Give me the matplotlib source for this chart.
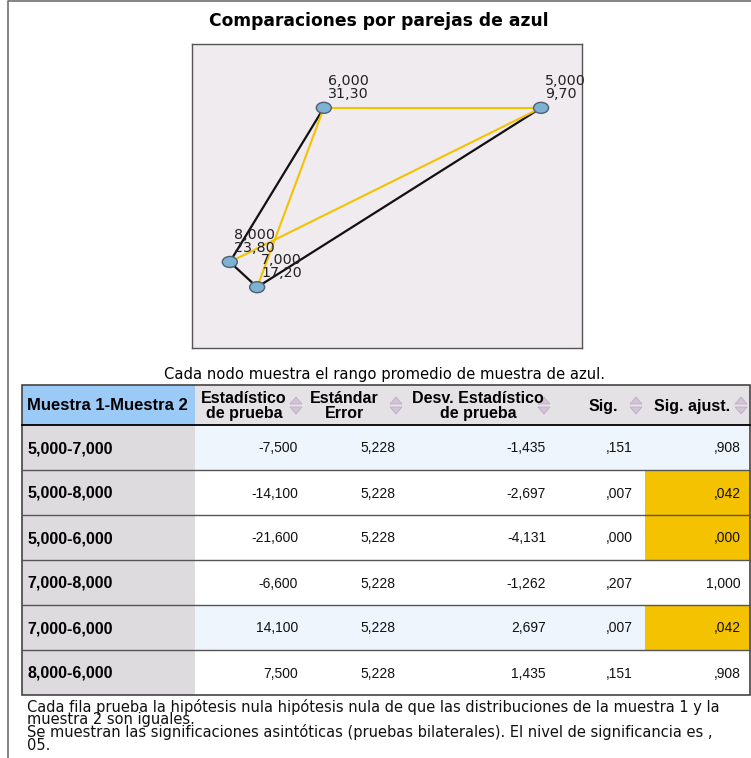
import matplotlib
matplotlib.use("Agg")
import matplotlib.pyplot as plt
from matplotlib.patches import Rectangle, Ellipse, Polygon

node_names = ['5,000', '6,000', '7,000', '8,000']
mean_rank = [9.70, 31.30, 17.20, 23.80]
# layout position of each node inside the graph box (0..1)
node_x = [0.895, 0.338, 0.167, 0.097]
node_y = [0.790, 0.790, 0.200, 0.283]

pairs = ['5,000-7,000', '5,000-8,000', '5,000-6,000', '7,000-8,000', '7,000-6,000', '8,000-6,000']
test_stat = [-7.500, -14.100, -21.600, -6.600, 14.100, 7.500]
std_err = [5.228, 5.228, 5.228, 5.228, 5.228, 5.228]
std_stat = [-1.435, -2.697, -4.131, -1.262, 2.697, 1.435]
sig = [0.151, 0.007, 0.000, 0.207, 0.007, 0.151]
sig_adj = [0.908, 0.042, 0.000, 1.000, 0.042, 0.908]

headers = ['Muestra 1-Muestra 2', 'Estadístico\nde prueba', 'Estándar\nError',
           'Desv. Estadístico\nde prueba', 'Sig.', 'Sig. ajust.']

title = 'Comparaciones por parejas de azul'
caption = 'Cada nodo muestra el rango promedio de muestra de azul.'
notes = ['Cada fila prueba la hipótesis nula hipótesis nula de que las distribuciones de la muestra 1 y la',
         'muestra 2 son iguales.',
         'Se muestran las significaciones asintóticas (pruebas bilaterales). El nivel de significancia es ,',
         '05.']

alpha = 0.05
W, H = 751, 758

YELLOW = '#f5c200'
SANS = ['Liberation Sans', 'DejaVu Sans']
WIDE = ['DejaVu Sans']


def fmt(v, nd=3):
    s = f"{v:.{nd}f}".replace('.', ',')
    if abs(v) < 1:
        s = s.replace('0,', ',', 1)
    return s


fig = plt.figure(figsize=(W / 100, H / 100), dpi=100)
ax = fig.add_axes([0, 0, 1, 1])
ax.set_xlim(0, W)
ax.set_ylim(H, 0)
ax.axis('off')

# outer frame
ax.plot([8, 8, W], [H, 0.8, 0.8], color='#707070', lw=1.2)

ax.text(379, 21, title, ha='center', va='center', fontsize=12.3,
        fontweight='bold', family=WIDE)

# ---- graph ----
gl, gt, gw, gh = 192, 44, 390, 304
gax = fig.add_axes([gl / W, 1 - (gt + gh) / H, gw / W, gh / H])
gax.set_xlim(0, 1)
gax.set_ylim(0, 1)
gax.set_facecolor('#efebef')
gax.set_xticks([])
gax.set_yticks([])
for sp in gax.spines.values():
    sp.set_color('#555555')
    sp.set_linewidth(1)

idx = {n: i for i, n in enumerate(node_names)}
edges = []
for p, s in zip(pairs, sig_adj):
    a, b = p.split('-', 1)
    edges.append((idx[a], idx[b], s < alpha))
# black edges first, significant (yellow) on top
for a, b, signif in sorted(edges, key=lambda e: e[2]):
    gax.plot([node_x[a], node_x[b]], [node_y[a], node_y[b]],
             color=YELLOW if signif else '#111111', lw=1.5 if signif else 1.6,
             zorder=2, solid_capstyle='round')

for i, name in enumerate(node_names):
    gax.add_patch(Ellipse((node_x[i], node_y[i]), 15 / gw, 11 / gh,
                          facecolor='#7fb1d3', edgecolor='#4b6272', lw=1, zorder=3))
    gax.annotate(f"{name}\n{fmt(mean_rank[i], 2)}", (node_x[i], node_y[i]),
                 xytext=(3, 5), textcoords='offset points', ha='left', va='bottom',
                 fontsize=10.3, linespacing=0.9, color='#222222', family=WIDE, zorder=4)

ax.text(385, 375, caption, ha='center', va='center', fontsize=10.6, family=WIDE)

# ---- table ----
col_edges = [22, 195, 305, 405, 553, 645, 750]
top, head_h, row_h = 385, 40, 45
blue_rows = [0, 4]
n = len(pairs)
bottom = top + head_h + n * row_h

# header cells
ax.add_patch(Rectangle((col_edges[0], top), col_edges[1] - col_edges[0], head_h,
                       facecolor='#9ccaf7', edgecolor='none'))
ax.add_patch(Rectangle((col_edges[1], top), col_edges[-1] - col_edges[1], head_h,
                       facecolor='#e4e2e4', edgecolor='none'))
ax.text(col_edges[0] + 5, top + head_h / 2 + 1, headers[0], ha='left', va='center',
        fontsize=12, fontweight='bold', family=SANS)
text_cx = [244, 344, 478, 603, 692]
for j in range(1, 6):
    ax.text(text_cx[j - 1], top + head_h / 2 + 1, headers[j], ha='center', va='center',
            fontsize=11.5, fontweight='bold', family=SANS, linespacing=0.95)
    # sort arrows
    ax_c = col_edges[j + 1] - 9
    ym = top + head_h / 2
    ax.add_patch(Polygon([[ax_c - 6, ym - 1], [ax_c + 6, ym - 1], [ax_c, ym - 8]],
                         closed=True, facecolor='#d2c3d8', edgecolor='#b9a7c2', lw=0.5))
    ax.add_patch(Polygon([[ax_c - 6, ym + 2], [ax_c + 6, ym + 2], [ax_c, ym + 9]],
                         closed=True, facecolor='#d2c3d8', edgecolor='#b9a7c2', lw=0.5))

# body
for i in range(n):
    y0 = top + head_h + i * row_h
    ax.add_patch(Rectangle((col_edges[0], y0), col_edges[1] - col_edges[0], row_h,
                           facecolor='#dddbdd', edgecolor='none'))
    bg = '#eef5fc' if i in blue_rows else 'white'
    ax.add_patch(Rectangle((col_edges[1], y0), col_edges[-1] - col_edges[1], row_h,
                           facecolor=bg, edgecolor='none'))
    if sig_adj[i] < alpha:
        ax.add_patch(Rectangle((col_edges[5], y0), col_edges[6] - col_edges[5], row_h,
                               facecolor=YELLOW, edgecolor='none'))
    yc = y0 + row_h / 2 + 1
    ax.text(col_edges[0] + 5, yc, pairs[i], ha='left', va='center', fontsize=11.5,
            fontweight='bold', family=SANS)
    vals = [fmt(test_stat[i]), fmt(std_err[i]), fmt(std_stat[i]), fmt(sig[i]), fmt(sig_adj[i])]
    pads = [7, 10, 7, 12, 9]
    for j, v in enumerate(vals):
        ax.text(col_edges[j + 2] - pads[j], yc, v, ha='right', va='center',
                fontsize=10, family=SANS, color='#111111')
    if i > 0:
        ax.plot([col_edges[0], col_edges[-1]], [y0, y0], color='#555555', lw=1)

# faint column lines in the body
for x in col_edges[2:-1]:
    ax.plot([x, x], [top + head_h, bottom], color='#e6ecf2', lw=0.8, zorder=0.5)

ax.plot([col_edges[0], col_edges[-1]], [top + head_h, top + head_h], color='black', lw=1.3)
ax.add_patch(Rectangle((col_edges[0], top), col_edges[-1] - col_edges[0], bottom - top,
                       facecolor='none', edgecolor='#444444', lw=1.2))

# footnotes
ax.text(27, 699, '\n'.join(notes), ha='left', va='top', fontsize=10.5,
        family=WIDE, color='#111111', linespacing=0.78)

fig.savefig('out.png', dpi=100)
